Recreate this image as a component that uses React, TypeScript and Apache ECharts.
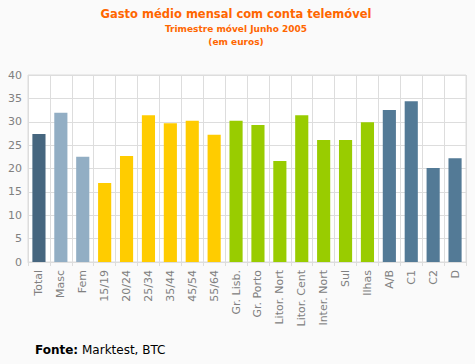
import React, { useEffect, useRef } from "react";
import * as echarts from "echarts";

const categories = ["Total", "Masc", "Fem", "15/19", "20/24", "25/34", "35/44", "45/54", "55/64", "Gr. Lisb.", "Gr. Porto", "Litor. Nort", "Litor. Cent", "Inter. Nort", "Sul", "Ilhas", "A/B", "C1", "C2", "D"];
const values = [27.4, 31.9, 22.5, 16.9, 22.7, 31.4, 29.7, 30.2, 27.2, 30.2, 29.3, 21.6, 31.4, 26.1, 26.1, 29.9, 32.5, 34.4, 20.1, 22.2];
const barColors = ["#46667f", "#92aec4", "#92aec4", "#ffcc00", "#ffcc00", "#ffcc00", "#ffcc00", "#ffcc00", "#ffcc00", "#99cc00", "#99cc00", "#99cc00", "#99cc00", "#99cc00", "#99cc00", "#99cc00", "#537a96", "#537a96", "#537a96", "#537a96"];
const yTicks = { min: 0, max: 40, interval: 5 };
const titleText = "Gasto médio mensal com conta telemóvel";
const subtitle1 = "Trimestre móvel Junho 2005";
const subtitle2 = "(em euros)";

export default function App() {
  const ref = useRef<HTMLDivElement>(null);
  useEffect(() => {
    const chart = echarts.init(ref.current!, null, { renderer: "svg" });
    const font = "DejaVu Sans, Verdana, sans-serif";
    chart.setOption({
      animation: false,
      backgroundColor: "#fafafa",
      grid: { left: 28, right: 9, top: 75, bottom: 102, show: true, backgroundColor: "#ffffff", borderColor: "#dddddd", borderWidth: 1 },
      xAxis: {
        type: "category",
        data: categories,
        axisLine: { lineStyle: { color: "#dddddd", width: 1 } },
        axisTick: { show: true, length: 4, lineStyle: { color: "#dddddd" } },
        splitLine: { show: true, lineStyle: { color: "#dddddd", width: 1 } },
        axisLabel: { rotate: 90, color: "#808080", fontFamily: font, fontSize: 11, margin: 8 },
      },
      yAxis: {
        type: "value",
        min: yTicks.min,
        max: yTicks.max,
        interval: yTicks.interval,
        axisLine: { show: false },
        axisTick: { show: false },
        splitLine: { lineStyle: { color: "#dddddd", width: 1 } },
        axisLabel: { color: "#808080", fontFamily: font, fontSize: 11, margin: 6 },
      },
      series: [
        {
          type: "bar",
          data: values.map((v, i) => ({ value: v, itemStyle: { color: barColors[i] } })),
          barWidth: "60%",
        },
      ],
      graphic: [
        { type: "text", x: 236, y: 14, style: { text: titleText, fill: "#ff6600", font: "bold 11.5px DejaVu Sans, Verdana, sans-serif", textAlign: "center", textVerticalAlign: "middle" } },
        { type: "text", x: 236, y: 29, style: { text: subtitle1, fill: "#ff6600", font: "bold 9px DejaVu Sans, Verdana, sans-serif", textAlign: "center", textVerticalAlign: "middle" } },
        { type: "text", x: 236, y: 42, style: { text: subtitle2, fill: "#ff6600", font: "bold 9px DejaVu Sans, Verdana, sans-serif", textAlign: "center", textVerticalAlign: "middle" } },
        {
          type: "text", x: 35, y: 350,
          style: {
            text: "{b|Fonte:} Marktest, BTC",
            fill: "#000000",
            font: "12px DejaVu Sans, Verdana, sans-serif",
            textVerticalAlign: "middle",
            rich: { b: { fontWeight: "bold", fontSize: 12, fontFamily: font, fill: "#000" } },
          },
        },
      ],
    });
    return () => chart.dispose();
  }, []);
  return <div ref={ref} style={{ position: "fixed", left: 0, top: 0, width: 475, height: 364 }} />;
}
